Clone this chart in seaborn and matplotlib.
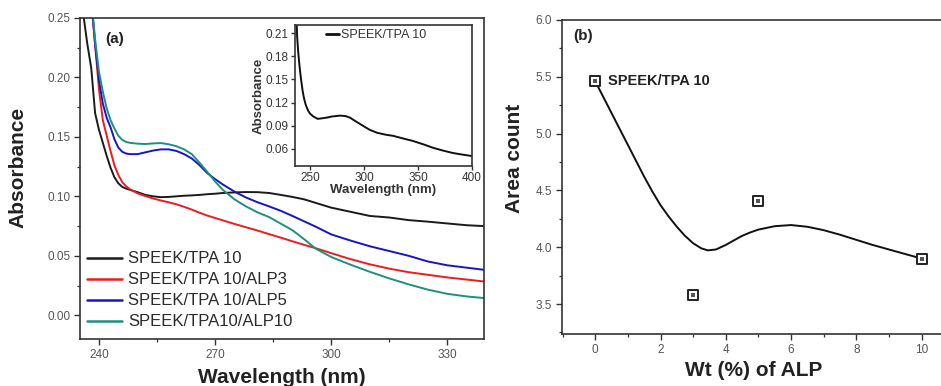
import matplotlib
matplotlib.use("Agg")
import matplotlib.pyplot as plt
import seaborn as sns
import pandas as pd
from matplotlib.ticker import MultipleLocator

# ---------------- data ----------------
wavelength = [235.5, 236, 237, 238, 239, 240, 241, 242, 243, 244, 245, 246, 247, 248,
              250, 252, 254, 256, 258, 260, 262, 264, 266, 268, 270, 272, 275, 278,
              281, 284, 287, 290, 293, 296, 300, 305, 310, 315, 320, 325, 330, 335, 340]

abs_tpa10 = [0.28, 0.252, 0.228, 0.208, 0.170, 0.156, 0.145, 0.134, 0.124, 0.116, 0.111,
             0.108, 0.1065, 0.1055, 0.1035, 0.1012, 0.1000, 0.0993, 0.0995, 0.1000, 0.1005,
             0.1008, 0.1012, 0.1018, 0.1022, 0.1028, 0.1033, 0.1036, 0.1035, 0.1028, 0.1012,
             0.0995, 0.0975, 0.0945, 0.0905, 0.0870, 0.0835, 0.0822, 0.0800, 0.0787, 0.0772,
             0.0757, 0.0749]

abs_alp3 = [0.40, 0.36, 0.31, 0.265, 0.228, 0.19, 0.164, 0.151, 0.138, 0.126, 0.118, 0.112,
            0.1085, 0.106, 0.1025, 0.1002, 0.0982, 0.0965, 0.0950, 0.0933, 0.0912, 0.0888,
            0.0862, 0.0838, 0.0818, 0.0798, 0.0768, 0.0740, 0.0712, 0.0682, 0.0652, 0.0622,
            0.0592, 0.0564, 0.0522, 0.0472, 0.0428, 0.0392, 0.0362, 0.0340, 0.0318, 0.0300,
            0.0282]

abs_alp5 = [0.40, 0.36, 0.31, 0.265, 0.228, 0.198, 0.178, 0.166, 0.158, 0.148, 0.141, 0.1375,
            0.136, 0.1355, 0.1355, 0.137, 0.1385, 0.1395, 0.1395, 0.1382, 0.1355, 0.1318,
            0.1262, 0.1195, 0.1145, 0.1100, 0.1040, 0.0990, 0.0950, 0.0915, 0.0878, 0.0835,
            0.0790, 0.0745, 0.0680, 0.0628, 0.0580, 0.0540, 0.0500, 0.0452, 0.0420, 0.0400,
            0.0380]

abs_alp10 = [0.40, 0.36, 0.31, 0.268, 0.232, 0.205, 0.188, 0.174, 0.164, 0.157, 0.151, 0.1475,
             0.1458, 0.145, 0.1443, 0.1440, 0.1445, 0.1448, 0.1438, 0.1422, 0.1395, 0.1355,
             0.1282, 0.1205, 0.1125, 0.1055, 0.0975, 0.0915, 0.0865, 0.0825, 0.0770, 0.0715,
             0.0640, 0.0560, 0.0490, 0.0425, 0.0365, 0.0310, 0.0260, 0.0215, 0.0180, 0.0158,
             0.0143]

series_names = ["SPEEK/TPA 10", "SPEEK/TPA 10/ALP3", "SPEEK/TPA 10/ALP5", "SPEEK/TPA10/ALP10"]
series_colors = ["#1a1a1a", "#ee1c1c", "#1515cc", "#1f9080"]

inset_wl = [237.5, 238, 239, 240, 241, 242, 243, 244, 245, 246, 248, 250, 253, 257, 260, 265,
            270, 278, 283, 287, 292, 299, 305, 312, 320, 327, 335, 345, 355, 364, 373, 382,
            390, 398, 400]
inset_abs = [0.225, 0.205, 0.185, 0.170, 0.157, 0.146, 0.136, 0.128, 0.122, 0.117, 0.110,
             0.1056, 0.102, 0.099, 0.0995, 0.1005, 0.102, 0.1032, 0.1025, 0.1005, 0.096,
             0.090, 0.085, 0.081, 0.0785, 0.077, 0.074, 0.0705, 0.066, 0.0615, 0.058, 0.0549,
             0.053, 0.0513, 0.0508]

alp_wt = [0, 3, 5, 10]
area_count = [5.46, 3.58, 4.41, 3.90]

fit_wt = [0, 0.25, 0.5, 0.75, 1.0, 1.25, 1.5, 1.75, 2.0, 2.25, 2.5, 2.75, 3.0, 3.25, 3.45,
          3.7, 4.0, 4.25, 4.5, 4.75, 5.0, 5.5, 6.0, 6.5, 7.0, 7.5, 8.0, 8.5, 9.0, 9.5, 10]
fit_area = [5.46, 5.32, 5.18, 5.04, 4.90, 4.76, 4.62, 4.49, 4.37, 4.27, 4.18, 4.10, 4.035,
            3.99, 3.972, 3.98, 4.02, 4.06, 4.10, 4.13, 4.155, 4.185, 4.195, 4.18, 4.15, 4.11,
            4.065, 4.02, 3.98, 3.94, 3.90]

# ---------------- style ----------------
sns.set_theme(style="ticks")
plt.rcParams["font.family"] = ["Liberation Sans", "DejaVu Sans"]
SPINE = "#333333"
TICKC = "#555555"
plt.rcParams.update({
    "axes.edgecolor": SPINE,
    "axes.linewidth": 1.2,
    "xtick.color": SPINE,
    "ytick.color": SPINE,
    "xtick.labelcolor": TICKC,
    "ytick.labelcolor": TICKC,
})

fig = plt.figure(figsize=(9.41, 3.86), dpi=100)

def style_ticks(ax, size=8.5):
    ax.tick_params(which="major", direction="out", length=4, width=1.0, labelsize=size, pad=3)
    ax.tick_params(which="minor", direction="out", length=2.5, width=0.9)
    for s in ax.spines.values():
        s.set_visible(True)
        s.set_color(SPINE)

# ---------------- panel (a) ----------------
ax1 = fig.add_axes([80 / 941, 1 - 339 / 386, 404 / 941, 321 / 386])
df = pd.DataFrame({
    "Wavelength": wavelength * 4,
    "Absorbance": abs_tpa10 + abs_alp3 + abs_alp5 + abs_alp10,
    "Sample": sum([[n] * len(wavelength) for n in series_names], []),
})
sns.lineplot(data=df, x="Wavelength", y="Absorbance", hue="Sample", hue_order=series_names,
             palette=series_colors, linewidth=1.4, ax=ax1, sort=False, estimator=None)
ax1.set_xlim(235.1, 339.5)
ax1.set_ylim(-0.02, 0.25)
ax1.xaxis.set_major_locator(MultipleLocator(30))
ax1.xaxis.set_minor_locator(MultipleLocator(15))
ax1.yaxis.set_major_locator(MultipleLocator(0.05))
ax1.yaxis.set_minor_locator(MultipleLocator(0.025))
ax1.yaxis.set_major_formatter(matplotlib.ticker.FormatStrFormatter("%.2f"))
style_ticks(ax1)
ax1.set_xlabel("Wavelength (nm)", fontsize=15, fontweight="bold", color="#222222", labelpad=5)
ax1.set_ylabel("Absorbance", fontsize=15, fontweight="bold", color="#222222")
ax1.yaxis.set_label_coords(-0.129, 0.533)
ax1.text(0.085, 0.935, "(a)", transform=ax1.transAxes, fontsize=11, fontweight="bold",
         color="#222222", ha="center", va="center")
leg = ax1.legend(loc="lower left", bbox_to_anchor=(0.018, 0.03), frameon=False,
                 fontsize=12, handlelength=2.1, handletextpad=0.35, labelspacing=0.36,
                 borderaxespad=0, borderpad=0)
for t in leg.get_texts():
    t.set_color("#2a2a2a")
for l in leg.get_lines():
    l.set_linewidth(1.8)

# ---------------- inset ----------------
axi = fig.add_axes([295 / 941, 1 - 166 / 386, 177 / 941, 141 / 386])
sns.lineplot(x=inset_wl, y=inset_abs, color="#111111", linewidth=1.4, ax=axi,
             label="SPEEK/TPA 10", sort=False, estimator=None)
axi.set_xlim(236, 400)
axi.set_ylim(0.038, 0.2204)
axi.xaxis.set_major_locator(MultipleLocator(50))
axi.yaxis.set_major_locator(MultipleLocator(0.03))
axi.yaxis.set_major_formatter(matplotlib.ticker.FormatStrFormatter("%.2f"))
axi.tick_params(which="major", direction="out", length=3, width=1.0, labelsize=8.5, pad=1.5)
axi.tick_params(axis="both", labelcolor="#333333")
for s in axi.spines.values():
    s.set_visible(True)
    s.set_color(SPINE)
axi.set_xlabel("Wavelength (nm)", fontsize=9.5, fontweight="bold", color="#333333", labelpad=0)
axi.set_ylabel("Absorbance", fontsize=9.5, fontweight="bold", color="#333333", labelpad=1)
li = axi.legend(loc="upper left", bbox_to_anchor=(0.177, 0.97), frameon=False, fontsize=9,
                handlelength=1.0, handletextpad=0.2, borderaxespad=0, borderpad=0)
for t in li.get_texts():
    t.set_color("#333333")
for l in li.get_lines():
    l.set_linewidth(2.0)

# ---------------- panel (b) ----------------
ax2 = fig.add_axes([562 / 941, 1 - 334 / 386, 384 / 941, 314 / 386])
sns.lineplot(x=fit_wt, y=fit_area, color="#111111", linewidth=1.4, ax=ax2, sort=False,
             estimator=None)
sns.scatterplot(x=alp_wt, y=area_count, marker="s", s=45, facecolor="white",
                edgecolor="#222222", linewidth=1.4, ax=ax2, zorder=5)
sns.scatterplot(x=alp_wt, y=area_count, marker="s", s=7, color="#555555",
                linewidth=0, ax=ax2, zorder=6)
ax2.set_xlim(-1.02, 10.75)
ax2.set_ylim(3.236, 6.0)
ax2.xaxis.set_major_locator(MultipleLocator(2))
ax2.xaxis.set_minor_locator(MultipleLocator(1))
ax2.yaxis.set_major_locator(MultipleLocator(0.5))
ax2.yaxis.set_minor_locator(MultipleLocator(0.25))
ax2.yaxis.set_major_formatter(matplotlib.ticker.FormatStrFormatter("%.1f"))
style_ticks(ax2)
ax2.set_xlabel("Wt (%) of ALP", fontsize=15, fontweight="bold", color="#222222", labelpad=4)
ax2.set_ylabel("Area count", fontsize=15, fontweight="bold", color="#222222")
ax2.yaxis.set_label_coords(-0.099, 0.56)
ax2.text(0.055, 0.95, "(b)", transform=ax2.transAxes, fontsize=11, fontweight="bold",
         color="#222222", ha="center", va="center")
ax2.text(0.4, area_count[0], "SPEEK/TPA 10", fontsize=10.5, fontweight="bold",
         color="#222222", ha="left", va="center")

fig.savefig("out.png", dpi=100)
